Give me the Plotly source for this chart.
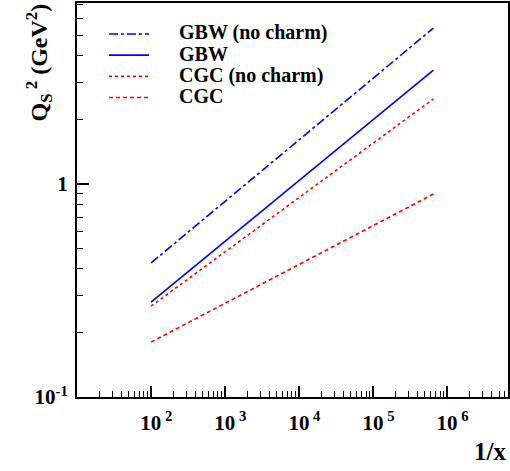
import plotly.graph_objects as go

# Data (endpoints of straight lines on log-log axes)
inv_x = [100, 6.5e5]
gbw_nocharm = [0.426, 5.4]
gbw = [0.279, 3.43]
cgc_nocharm = [0.267, 2.51]
cgc = [0.181, 0.898]

series_names = ["GBW (no charm)", "GBW", "CGC (no charm)", "CGC"]
series_vals = [gbw_nocharm, gbw, cgc_nocharm, cgc]
series_colors = ["#0000ff", "#0000ff", "#ff0000", "#ff0000"]
series_dash = ["dashdot", "solid", "dot", "4px,3px"]

x_tickvals = [1e2, 1e3, 1e4, 1e5, 1e6]
x_ticktext = ["\u00a0\u00a010<sup> 2</sup>", "\u00a0\u00a010<sup> 3</sup>", "\u00a0\u00a010<sup> 4</sup>",
              "\u00a0\u00a010<sup> 5</sup>", "\u00a0\u00a010<sup> 6</sup>"]
y_tickvals = [0.1, 1]
y_ticktext = ["10<sup>-1</sup>", "1"]

FONT = "Liberation Serif, Times New Roman, serif"
PAD = "\u00a0" * 5

fig = go.Figure()
for name, vals, col, dash in zip(series_names, series_vals, series_colors, series_dash):
    fig.add_trace(go.Scatter(
        x=inv_x, y=vals, mode="lines",
        name=f"<span style='font-size:20px'>{PAD}{name}</span>",
        line=dict(color=col, dash=dash, width=1.6)))

x_minor = [m * 10 ** e for e in range(1, 7) for m in range(2, 10)]
y_minor = [m * 10 ** e for e in range(-1, 1) for m in range(2, 10)]

fig.update_layout(
    width=510, height=471,
    margin=dict(l=77, r=2, t=3, b=74),
    plot_bgcolor="white", paper_bgcolor="white",
    font=dict(family=FONT, color="black", weight="bold"),
    showlegend=True,
    legend=dict(x=0.0626, y=0.961, xanchor="left", yanchor="top",
                bgcolor="rgba(0,0,0,0)", font=dict(size=14, family=FONT, weight="bold"),
                tracegroupgap=0, itemwidth=40),
    xaxis=dict(type="log", range=[1, 6.82], showgrid=False, zeroline=False, automargin=False,
               showline=True, linecolor="black", linewidth=2, mirror=True,
               ticks="inside", ticklen=11, tickwidth=1.5, tickcolor="black",
               tickmode="array", tickvals=x_tickvals, ticktext=x_ticktext,
               tickfont=dict(size=21, family=FONT, weight="bold"),
               ticklabelstandoff=6,
               minor=dict(ticks="inside", ticklen=6, tickwidth=1.2, tickcolor="black",
                          tickmode="array", tickvals=x_minor, showgrid=False)),
    yaxis=dict(type="log", range=[-1, 0.85], showgrid=False, zeroline=False, automargin=False,
               showline=True, linecolor="black", linewidth=2, mirror=True,
               ticks="inside", ticklen=12, tickwidth=1.5, tickcolor="black",
               tickmode="array", tickvals=y_tickvals, ticktext=y_ticktext,
               tickfont=dict(size=21, family=FONT, weight="bold"),
               ticklabelstandoff=3,
               minor=dict(ticks="inside", ticklen=6, tickwidth=1.2, tickcolor="black",
                          tickmode="array", tickvals=y_minor, showgrid=False)),
    annotations=[
        dict(text="Q<sub>S</sub><sup> 2</sup> (GeV<sup>2</sup>)", xref="paper", yref="paper",
             x=-0.089, y=1.003, xanchor="center", yanchor="top", textangle=-90,
             showarrow=False, font=dict(size=24, family=FONT, weight="bold")),
        dict(text="1/x", xref="paper", yref="paper", x=1.0, y=-0.178,
             xanchor="right", yanchor="bottom", showarrow=False,
             font=dict(size=25, family=FONT, weight="bold")),
    ],
)

fig.write_html("out.html", config={"displayModeBar": False},
               post_script="document.body.style.margin='0px';")
